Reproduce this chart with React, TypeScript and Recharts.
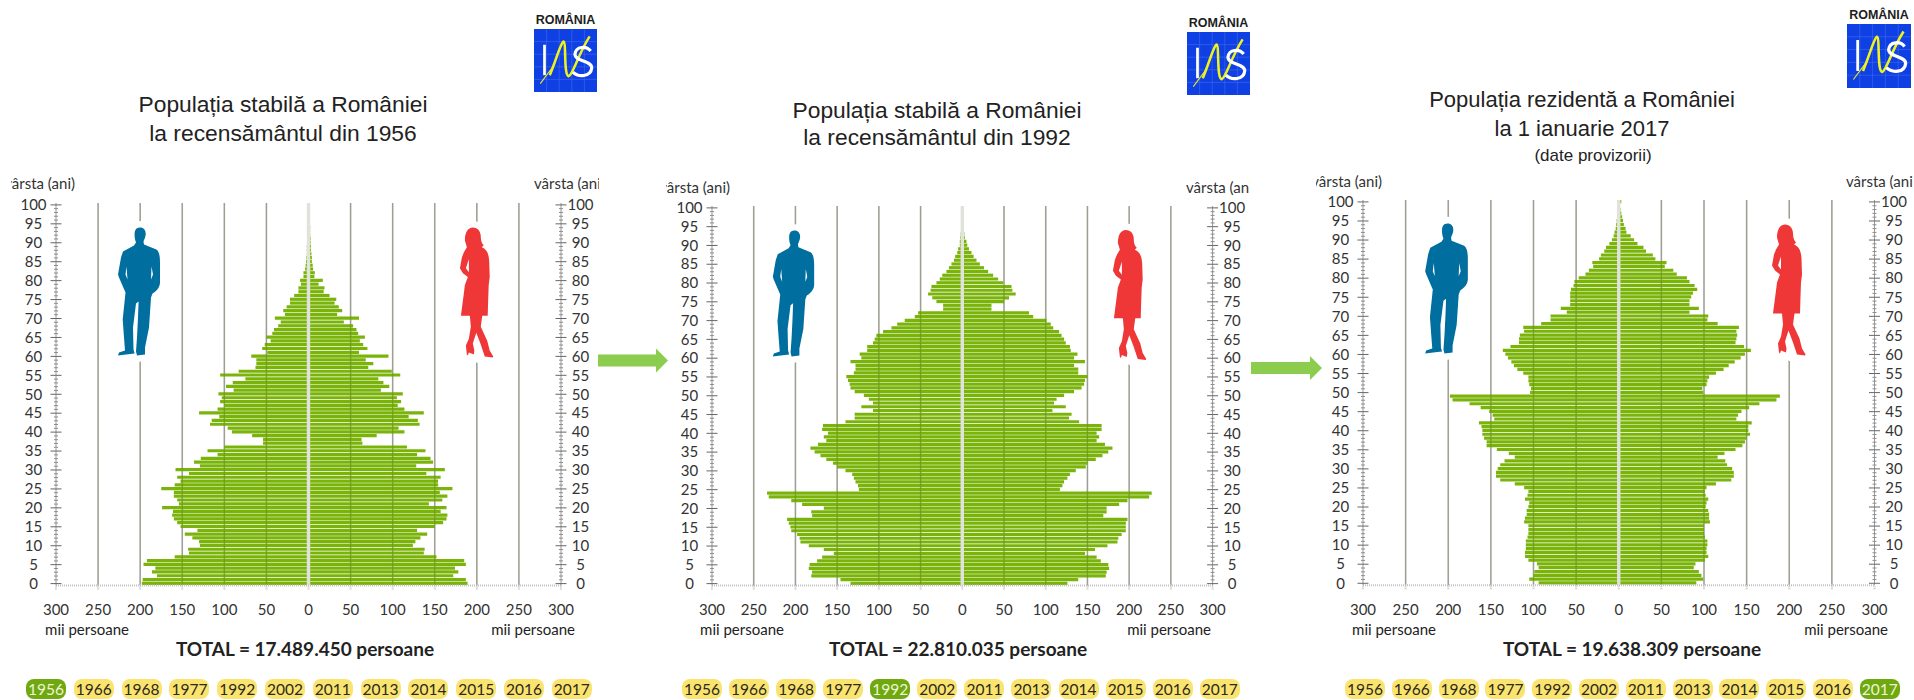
import { BarChart, Bar, XAxis, YAxis, CartesianGrid, ReferenceLine } from 'recharts';

const AGES = Array.from({ length: 101 }, (_, i) => i);
const X_TICKS = [-300, -250, -200, -150, -100, -50, 0, 50, 100, 150, 200, 250, 300];
const GRID_LINES = [-250, -200, -150, -100, -50, 50, 100, 150, 200, 250];
const YEARS = ['1956', '1966', '1968', '1977', '1992', '2002', '2011', '2013', '2014', '2015', '2016', '2017'];

// thousands of people per age, age 0 first
const men1956 = [198, 197, 180, 186, 182, 196, 192, 159, 142, 143, 129, 130, 138, 147, 132, 152, 156, 160, 162, 161, 174, 154, 156, 160, 160, 175, 159, 152, 156, 142, 158, 129, 136, 128, 108, 120, 100, 54, 54, 67, 91, 96, 117, 115, 106, 130, 108, 100, 105, 103, 107, 89, 98, 90, 75, 105, 83, 63, 62, 62, 68, 49, 55, 52, 45, 50, 43, 41, 36, 33, 40, 28, 30, 26, 22, 22, 17, 12, 12, 9, 10, 6, 6, 4, 3.5, 3, 2.5, 2, 2, 2, 1.5, 1.5, 1.5, 1, 1, 1, 1, 0.5, 0.5, 0.5, 0.5];
const women1956 = [189, 187, 172, 178, 174, 187, 185, 152, 137, 138, 124, 127, 133, 141, 129, 150, 160, 164, 165, 157, 164, 143, 159, 165, 156, 171, 154, 154, 157, 140, 162, 128, 148, 145, 129, 139, 117, 64, 63, 81, 114, 107, 132, 130, 119, 137, 114, 106, 110, 105, 112, 86, 96, 89, 83, 109, 99, 71, 77, 68, 95, 60, 70, 65, 61, 67, 59, 57, 53, 42, 60, 34, 40, 36, 31, 33, 25, 18, 19, 12, 17, 7, 7.5, 5.5, 5, 4, 4, 3.5, 3, 3, 2.5, 2.5, 2, 2, 2, 1.5, 1, 1, 1, 0.5, 0.5];
const men1992 = [134, 146, 181, 180, 184, 183, 174, 168, 154, 166, 184, 194, 195, 198, 205, 206, 208, 210, 180, 181, 166, 192, 205, 232, 234, 124, 125, 128, 130, 132, 140, 150, 155, 163, 170, 177, 182, 173, 163, 166, 161, 168, 167, 140, 129, 129, 107, 121, 107, 112, 118, 129, 134, 135, 137, 139, 130, 128, 128, 134, 121, 123, 114, 114, 107, 105, 103, 95, 85, 78, 69, 57, 53, 23, 23, 31, 36, 41, 38, 37, 31, 27, 24, 19, 16, 13, 10, 8.5, 6, 5, 3, 3, 2.5, 2, 1.5, 1, 1, 0.8, 0.5, 0.5, 0.5];
const women1992 = [126, 139, 172, 173, 176, 175, 166, 161, 147, 159, 174, 186, 187, 191, 196, 196, 196, 198, 169, 173, 173, 188, 198, 224, 227, 117, 120, 122, 126, 129, 136, 148, 150, 160, 168, 175, 180, 171, 161, 164, 161, 167, 167, 140, 128, 131, 108, 124, 110, 113, 122, 134, 143, 146, 147, 150, 139, 139, 134, 147, 134, 138, 130, 129, 124, 122, 119, 116, 109, 106, 101, 85, 80, 35, 35, 50, 56, 64, 60, 59, 49, 43, 37, 31, 26, 21, 17, 13.6, 11, 8, 6, 5, 3, 2.5, 2, 1.5, 1, 0.8, 0.5, 0.5, 0.5];
const men2017 = [94, 105, 100, 99, 94, 96, 106, 110, 110, 109, 109, 109, 107, 106, 106, 106, 111, 110, 108, 108, 106, 105, 110, 107, 106, 111, 122, 139, 144, 144, 142, 139, 134, 122, 129, 143, 155, 155, 158, 160, 160, 161, 164, 146, 148, 152, 162, 175, 195, 198, 104, 103, 105, 106, 106, 112, 119, 123, 126, 130, 133, 136, 127, 117, 117, 116, 111, 112, 91, 80, 80, 61, 68, 57, 57, 57, 57, 56, 53, 52, 47, 39, 35, 30, 31, 23, 21, 17, 15, 11, 8, 6, 5, 3.6, 3, 2.5, 1.6, 1.2, 0.8, 0.5, 2];
const women2017 = [91, 99, 97, 94, 88, 90, 101, 105, 103, 103, 104, 104, 101, 100, 100, 100, 107, 106, 106, 105, 102, 103, 105, 102, 101, 103, 114, 132, 135, 135, 133, 127, 125, 116, 124, 137, 145, 148, 150, 154, 152, 152, 156, 138, 140, 144, 153, 165, 185, 189, 99, 98, 103, 104, 106, 114, 123, 129, 136, 143, 148, 155, 147, 137, 138, 139, 138, 141, 116, 104, 105, 83, 94, 83, 83, 85, 87, 92, 89, 83, 80, 68, 64, 54, 56, 43, 40, 32, 29, 22, 18, 14, 9, 8, 6, 5, 4, 3, 2, 1, 3];

const BAR_GREEN = '#7ab40a';
const FONT = 'Lato, "Open Sans", sans-serif';
const TITLE_FONT = "'Liberation Sans', Arial, sans-serif";
const AXIS_PAD = 50;
const TOP_PAD = 12;

const buildRows = (men: number[], women: number[]) =>
  AGES.map((age, i) => ({ age, men: -men[i], women: women[i] }));

function AgeTick({ x0, side, y, payload }: any) {
  const age = payload.value;
  const major = age % 5 === 0;
  const half = major ? 5.5 : 2;
  const textX = side === 'left' ? x0 - 22.5 : x0 + 19.5;
  return (
    <g>
      <line x1={x0 - half} x2={x0 + half} y1={y} y2={y} stroke={major ? '#666' : '#8c8c8c'} strokeWidth={1} />
      {major && (
        <text x={textX} y={y} dy="0.35em" textAnchor="middle" fontSize={15} fontFamily={FONT} fill="#333">
          {age}
        </text>
      )}
    </g>
  );
}

interface PyramidProps {
  men: number[];
  women: number[];
  left: number;
  right: number;
  top: number;
  bottom: number;
}

function Pyramid({ men, women, left, right, top, bottom }: PyramidProps) {
  const width = right - left + AXIS_PAD * 2;
  const height = bottom - top + TOP_PAD + 43;
  return (
    <div style={{ position: 'absolute', left: left - AXIS_PAD, top: top - TOP_PAD }}>
      <BarChart
        width={width}
        height={height}
        data={buildRows(men, women)}
        layout="vertical"
        stackOffset="sign"
        barSize={3.2}
        margin={{ top: TOP_PAD, right: 0, bottom: 0, left: 0 }}
      >
        <CartesianGrid horizontal={false} verticalValues={GRID_LINES} stroke="#b4b2b2" strokeWidth={1.6} />
        <XAxis
          type="number"
          domain={[-300, 300]}
          ticks={X_TICKS}
          interval={0}
          allowDataOverflow
          height={43}
          tickSize={4}
          tickMargin={15}
          tick={{ fontSize: 15, fontFamily: FONT, fill: '#333' }}
          tickFormatter={(v: number) => String(Math.abs(v))}
          stroke="#c4c2c2"
          strokeWidth={2}
          strokeDasharray="1 1"
        />
        <YAxis
          yAxisId="left"
          type="category"
          dataKey="age"
          reversed
          interval={0}
          width={AXIS_PAD}
          tickLine={false}
          axisLine={{ stroke: '#9a9a9a' }}
          tick={(p: any) => <AgeTick {...p} side="left" x0={AXIS_PAD} />}
        />
        <YAxis
          yAxisId="right"
          orientation="right"
          type="category"
          dataKey="age"
          reversed
          interval={0}
          width={AXIS_PAD}
          tickLine={false}
          axisLine={{ stroke: '#9a9a9a' }}
          tick={(p: any) => <AgeTick {...p} side="right" x0={width - AXIS_PAD} />}
        />
        <Bar yAxisId="left" dataKey="men" stackId="pop" fill={BAR_GREEN} isAnimationActive={false} />
        <Bar yAxisId="left" dataKey="women" stackId="pop" fill={BAR_GREEN} isAnimationActive={false} />
        {GRID_LINES.map((v) => (
          <ReferenceLine key={v} yAxisId="left" x={v} stroke="#4a5a10" strokeOpacity={0.22} strokeWidth={1.2} />
        ))}
        <ReferenceLine yAxisId="left" x={0} stroke="#e2e2dc" strokeWidth={3.4} />
      </BarChart>
    </div>
  );
}

function Label({ x, y, size = 14, weight = 400, color = '#222', family = FONT, anchor = 'center', children }: any) {
  const shift = anchor === 'center' ? '-50%' : anchor === 'right' ? '-100%' : '0';
  return (
    <div
      style={{
        position: 'absolute',
        left: x,
        top: y,
        transform: `translate(${shift}, -50%)`,
        fontSize: size,
        fontWeight: weight,
        fontFamily: family,
        color,
        whiteSpace: 'nowrap',
      }}
    >
      {children}
    </div>
  );
}

// "vârsta (ani)" is cut by the image edge in the original
function ClippedLabel({ x, width, y, align, children }: any) {
  return (
    <div
      style={{
        position: 'absolute',
        left: x,
        top: y - 10,
        width,
        height: 20,
        overflow: 'hidden',
        display: 'flex',
        justifyContent: align,
        alignItems: 'center',
        fontSize: 15,
        fontFamily: FONT,
        color: '#333',
        whiteSpace: 'nowrap',
      }}
    >
      {children}
    </div>
  );
}

function YearPills({ first, step, y, active }: { first: number; step: number; y: number; active: string }) {
  return (
    <>
      {YEARS.map((year, i) => (
        <div
          key={year}
          style={{
            position: 'absolute',
            left: first + i * step - 20,
            top: y - 10,
            width: 40,
            height: 20,
            borderRadius: 8,
            background: year === active ? '#6fa80f' : '#fbe36f',
            color: year === active ? '#eef5d8' : '#2a2a1a',
            fontSize: 15.5,
            lineHeight: '20px',
            textAlign: 'center',
            fontFamily: FONT,
          }}
        >
          {year}
        </div>
      ))}
    </>
  );
}

function Man({ x, y, w, h }: { x: number; y: number; w: number; h: number }) {
  return (
    <svg style={{ position: 'absolute', left: x - 10, top: y - 10, overflow: 'visible' }} width={w + 20} height={h + 20} viewBox="-10 -10 62 148">
      <path
        d="M22 0C26 0 28 3 27.7 7C27.5 10 26 12 25.5 14L26 17L38.4 22C41 24 42 28 42 35L42 55C42 60 38 64 34.5 66L33 70L31 100L27 120L27 127L19 128L18 124L19 110L20 90L20.6 74L18 76L15 100L15.5 122L16.6 126L8 127L0 128L1 125L7 123L6 110L4.7 92L7 70L7.5 65L1 50L0 47L3 30L5 24L16 18L18 15C17 12 16.5 10 16.6 7C16.5 3 18 0 22 0Z"
        fill="#006f9f"
        stroke="#fff"
        strokeWidth={13}
        style={{ paintOrder: 'stroke' }}
      />
      <path d="M8.5 39L9.5 52L7.5 47ZM33.5 39L33 52L35 47Z" fill="#fff" />
    </svg>
  );
}

function Woman({ x, y, w, h }: { x: number; y: number; w: number; h: number }) {
  return (
    <svg style={{ position: 'absolute', left: x - 10, top: y - 10, overflow: 'visible' }} width={w + 20} height={h + 20} viewBox="-10 -10 54 151">
      <path
        d="M13 0C18 0 21 4 21 9C21 13 22 16 24 18L22 20C27 22 29 26 29.5 34L30 50L29 58L28.5 72L28 89L22.5 89L21 100L27.5 114L30 124L33.6 130L33 131L25 130L23 124L21 118L16.5 106L13 117L14.5 124L14 128L9 126L8 129L7 128L6 119L9 112L11 100L10 89L1 89L4 66L5 58L8 50L3 46L0 41L2 30L4 25L7 20L5 13C5 5 8 0 13 0Z"
        fill="#ef3737"
        stroke="#fff"
        strokeWidth={13}
        style={{ paintOrder: 'stroke' }}
      />
      <path d="M9 32L6 41L9 45Z" fill="#fff" />
    </svg>
  );
}

function Logo({ x, y, size }: { x: number; y: number; size: number }) {
  const gridCells = [12, 24, 36, 48];
  return (
    <>
      <Label x={x + size / 2} y={y - 9} size={12.5} weight={700} color="#1d1d1d" family={TITLE_FONT}>
        ROMÂNIA
      </Label>
      <svg style={{ position: 'absolute', left: x, top: y }} width={size} height={size} viewBox="0 0 60 60">
        <rect width={60} height={60} fill="#0f40e4" />
        {gridCells.map((g) => (
          <g key={g} stroke="#4a70ea" strokeWidth={0.5}>
            <line x1={g} x2={g} y1={0} y2={60} />
            <line y1={g} y2={g} x1={0} x2={60} />
          </g>
        ))}
        <line x1={10} x2={10} y1={15} y2={44} stroke="#fff" strokeWidth={2.6} />
        <path d="M15 44C21 30 25 14 28 12C31 12 28 44 33 45C37 44 42 24 53 7" fill="none" stroke="#eff21e" strokeWidth={2.4} />
        <line x1={6} x2={18} y1={52} y2={36} stroke="#eff21e" strokeWidth={1} />
        <path d="M54 21C50 16 40 16 39 24C39 31 55 30 55 37C54 46 42 46 37 41" fill="none" stroke="#fff" strokeWidth={3} />
      </svg>
    </>
  );
}

function Arrow({ x1, x2, y }: { x1: number; x2: number; y: number }) {
  const head = x2 - 12;
  return (
    <svg style={{ position: 'absolute', left: 0, top: 0 }} width={1914} height={700} pointerEvents="none">
      <path
        d={`M${x1} ${y - 6}L${head} ${y - 6}L${head} ${y - 12}L${x2} ${y}L${head} ${y + 12}L${head} ${y + 6}L${x1} ${y + 6}Z`}
        fill="#8ccc4f"
      />
    </svg>
  );
}

export default function App() {
  return (
    <div style={{ position: 'absolute', left: 0, top: 0, width: 1914, height: 700, background: '#fff', overflow: 'hidden' }}>
      {/* 1956 */}
      <Logo x={534} y={29} size={63} />
      <Label x={283} y={104} size={22.8} family={TITLE_FONT}>Populația stabilă a României</Label>
      <Label x={283} y={133} size={22.8} family={TITLE_FONT}>la recensământul din 1956</Label>
      <ClippedLabel x={11} width={64} y={183} align="flex-end">vârsta (ani)</ClippedLabel>
      <ClippedLabel x={534} width={65} y={183} align="flex-start">vârsta (ani)</ClippedLabel>
      <Pyramid men={men1956} women={women1956} left={56} right={561} top={203} bottom={585.5} />
      <Man x={118} y={227} w={42} h={129} />
      <Woman x={460} y={227} w={33.6} h={131} />
      <Label x={87} y={629} size={15}>mii persoane</Label>
      <Label x={575} y={629} anchor="right" size={15}>mii persoane</Label>
      <Label x={305} y={648} size={19} weight={700}>TOTAL = 17.489.450 persoane</Label>
      <YearPills first={46} step={47.8} y={689} active="1956" />

      {/* 1992 */}
      <Logo x={1187} y={32} size={63} />
      <Label x={937} y={110} size={22.8} family={TITLE_FONT}>Populația stabilă a României</Label>
      <Label x={937} y={137} size={22.8} family={TITLE_FONT}>la recensământul din 1992</Label>
      <ClippedLabel x={666} width={64} y={187} align="flex-end">vârsta (ani)</ClippedLabel>
      <ClippedLabel x={1186} width={64} y={187} align="flex-start">vârsta (ani)</ClippedLabel>
      <Pyramid men={men1992} women={women1992} left={712.4} right={1213} top={206.4} bottom={585.9} />
      <Man x={773} y={229} w={41} h={129} />
      <Woman x={1112.5} y={230} w={33.6} h={130} />
      <Label x={742} y={629} size={15}>mii persoane</Label>
      <Label x={1211} y={629} anchor="right" size={15}>mii persoane</Label>
      <Label x={958} y={648} size={19} weight={700}>TOTAL = 22.810.035 persoane</Label>
      <YearPills first={702} step={47.07} y={689} active="1992" />

      {/* 2017 */}
      <Logo x={1847} y={24} size={64} />
      <Label x={1582} y={100} size={22} family={TITLE_FONT}>Populația rezidentă a României</Label>
      <Label x={1582} y={129} size={22} family={TITLE_FONT}>la 1 ianuarie 2017</Label>
      <Label x={1593} y={156} size={17} family={TITLE_FONT}>(date provizorii)</Label>
      <ClippedLabel x={1316} width={66} y={181} align="flex-end">vârsta (ani)</ClippedLabel>
      <ClippedLabel x={1846} width={67} y={181} align="flex-start">vârsta (ani)</ClippedLabel>
      <Pyramid men={men2017} women={women2017} left={1363} right={1874.5} top={200.4} bottom={585.6} />
      <Man x={1425} y={223} w={43} h={131} />
      <Woman x={1772} y={224} w={34} h={132} />
      <Label x={1394} y={629} size={15}>mii persoane</Label>
      <Label x={1888} y={629} anchor="right" size={15}>mii persoane</Label>
      <Label x={1632} y={648} size={19} weight={700}>TOTAL = 19.638.309 persoane</Label>
      <YearPills first={1365} step={46.8} y={689} active="2017" />

      <Arrow x1={598} x2={668} y={360.5} />
      <Arrow x1={1251} x2={1322} y={368} />
    </div>
  );
}
